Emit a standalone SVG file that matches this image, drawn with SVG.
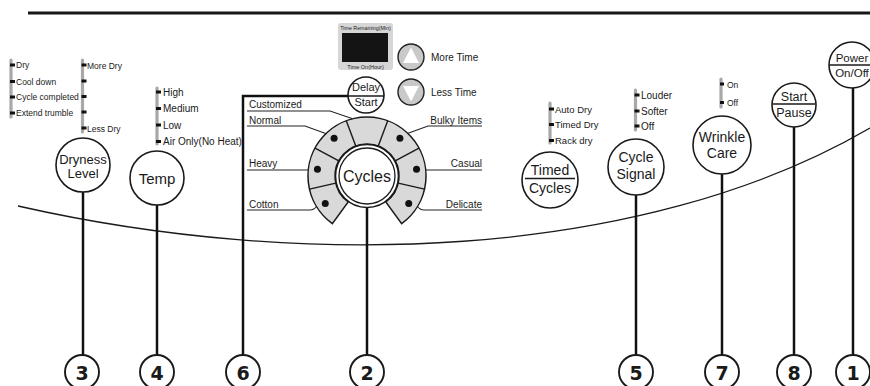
<svg xmlns="http://www.w3.org/2000/svg" width="870" height="386" viewBox="0 0 870 386">
<style>
text{font-family:"Liberation Sans",Arial,sans-serif;fill:#1a1a1a}
.node{fill:#fff;stroke:#1a1a1a;stroke-width:1.6}
.stem{stroke:#111;stroke-width:2.5;fill:none}
.lead{stroke:#222;stroke-width:1.1;fill:none}
.bar{stroke:#a8a8a8;stroke-width:3.2;stroke-linecap:round}
.tick{fill:#111}
.lbl{font-size:10px}
.sm{font-size:8.5px}
.nm{font-size:14px}
.num{font-family:"DejaVu Sans",Verdana,sans-serif;font-weight:bold;font-size:19px;text-anchor:middle}
.numc{fill:#fff;stroke:#1a1a1a;stroke-width:1.9}
.mid{text-anchor:middle}
.end{text-anchor:end}
.seg{fill:#d9d9d9;stroke:#1a1a1a;stroke-width:1.5}
.div{stroke:#1a1a1a;stroke-width:1.4}
.sep{stroke:#1a1a1a;stroke-width:1.6}
</style>

<line x1="28" y1="13" x2="870" y2="13" stroke="#161616" stroke-width="3"/>
<path d="M18,206 C300,270 640,262 870,128" fill="none" stroke="#1a1a1a" stroke-width="1.3"/>

<g id="connectors">
<line class="stem" x1="83" y1="191" x2="83" y2="355"/>
<line class="stem" x1="157" y1="205" x2="157" y2="355"/>
<polyline class="stem" points="348,96 243,96 243,355"/>
<line class="stem" x1="367" y1="207.5" x2="367" y2="355"/>
<line class="stem" x1="636" y1="195" x2="636" y2="355"/>
<line class="stem" x1="722" y1="174" x2="722" y2="355"/>
<line class="stem" x1="794" y1="127" x2="794" y2="355"/>
<line class="stem" x1="853" y1="88" x2="853" y2="355"/>
<polyline class="lead" points="247,111 330,111 352,118.5"/>
<polyline class="lead" points="247,126 305,126 327,134"/>
<polyline class="lead" points="482,126 428,126 406,134"/>
<line class="lead" x1="247" y1="170" x2="308.5" y2="170"/>
<line class="lead" x1="425.5" y1="170" x2="482" y2="170"/>
<path class="lead" d="M247,210 H310 Q314,210 317,206"/>
<path class="lead" d="M482,210 H424 Q420,210 417,206"/>
</g>

<g id="dryness-options">
<line class="bar" x1="11" y1="60" x2="11" y2="117"/>
<rect class="tick" x="10" y="63.5" width="5" height="3"/>
<rect class="tick" x="10" y="80" width="5" height="3"/>
<rect class="tick" x="10" y="95.5" width="5" height="3"/>
<rect class="tick" x="10" y="111.5" width="5" height="3"/>
<text class="sm" x="16" y="68">Dry</text>
<text class="sm" x="16" y="84.5">Cool down</text>
<text class="sm" x="16" y="100">Cycle completed</text>
<text class="sm" x="16" y="116">Extend trumble</text>
<line class="bar" x1="82.5" y1="60" x2="82.5" y2="132"/>
<rect class="tick" x="81.5" y="63.5" width="5" height="3"/>
<rect class="tick" x="81.5" y="79.5" width="5" height="3"/>
<rect class="tick" x="81.5" y="95" width="5" height="3"/>
<rect class="tick" x="81.5" y="110.5" width="5" height="3"/>
<rect class="tick" x="81.5" y="126.5" width="5" height="3"/>
<text class="sm" x="87" y="68.5">More Dry</text>
<text class="sm" x="87" y="131.5">Less Dry</text>
</g>

<g id="dryness-level">
<circle class="node" cx="83" cy="165" r="27"/>
<text class="mid" x="83" y="163.5" font-size="13">Dryness</text>
<text class="mid" x="83" y="178" font-size="13">Level</text>
</g>

<g id="temp-options">
<line class="bar" x1="157" y1="88" x2="157" y2="144"/>
<rect class="tick" x="156" y="90.5" width="5" height="3"/>
<rect class="tick" x="156" y="107" width="5" height="3"/>
<rect class="tick" x="156" y="123.5" width="5" height="3"/>
<rect class="tick" x="156" y="140" width="5" height="3"/>
<text class="lbl" x="163" y="95.5">High</text>
<text class="lbl" x="163" y="112">Medium</text>
<text class="lbl" x="163" y="128.5">Low</text>
<text class="lbl" x="163" y="145">Air Only(No Heat)</text>
</g>

<g id="temp">
<circle class="node" cx="157" cy="178" r="27"/>
<text class="mid" x="157" y="184" font-size="15">Temp</text>
</g>

<g id="display">
<rect x="338" y="23" width="55" height="47" rx="3" fill="#d6d6d6"/>
<rect x="342" y="33" width="46" height="29" fill="#141414"/>
<text class="mid" x="365.5" y="30" font-size="5.3">Time Remaining(Min)</text>
<text class="mid" x="365.5" y="68.5" font-size="5.5">Time On(Hour)</text>
</g>

<g id="more-time">
<circle cx="411" cy="57" r="13" fill="#c9c9c9" stroke="#222" stroke-width="1.4"/>
<polygon points="411,47.5 403,63 419,63" fill="#fff"/>
<text class="lbl" x="431" y="61">More Time</text>
</g>

<g id="less-time">
<circle cx="411" cy="92" r="13" fill="#c9c9c9" stroke="#222" stroke-width="1.4"/>
<polygon points="403,86 419,86 411,101.5" fill="#fff"/>
<text class="lbl" x="431" y="96">Less Time</text>
</g>

<g id="delay-start">
<circle class="node" cx="366" cy="95" r="18"/>
<line class="sep" x1="348" y1="96" x2="384" y2="96"/>
<text class="mid" x="366" y="91" font-size="11">Delay</text>
<text class="mid" x="366" y="106" font-size="11">Start</text>
</g>

<g id="cycles">
<path class="seg" d="M332.32,223.73 A59,59 0 1 1 401.68,223.73 L385.81,201.89 A32,32 0 1 0 348.19,201.89 Z"/>
<line class="div" x1="309.48" y1="189.13" x2="335.80" y2="183.12"/>
<line class="div" x1="315.05" y1="148.03" x2="338.82" y2="160.83"/>
<line class="div" x1="346.27" y1="120.76" x2="355.76" y2="146.04"/>
<line class="div" x1="387.73" y1="120.76" x2="378.24" y2="146.04"/>
<line class="div" x1="418.95" y1="148.03" x2="395.18" y2="160.83"/>
<line class="div" x1="424.52" y1="189.13" x2="398.20" y2="183.12"/>
<circle cx="325.27" cy="203.55" r="3.5" fill="#111"/>
<circle cx="317.45" cy="169.30" r="3.5" fill="#111"/>
<circle cx="334.10" cy="138.36" r="3.5" fill="#111"/>
<circle cx="399.90" cy="138.36" r="3.5" fill="#111"/>
<circle cx="416.55" cy="169.30" r="3.5" fill="#111"/>
<circle cx="408.73" cy="203.55" r="3.5" fill="#111"/>
<circle class="node" cx="367" cy="176" r="31.5"/>
<circle fill="none" stroke="#1a1a1a" stroke-width="1.3" cx="367" cy="176" r="28"/>
<text class="mid" x="367" y="181.5" font-size="16">Cycles</text>
<text class="lbl" x="249" y="108">Customized</text>
<text class="lbl" x="249" y="123.5">Normal</text>
<text class="lbl end" x="482" y="123.5">Bulky Items</text>
<text class="lbl" x="249" y="167">Heavy</text>
<text class="lbl end" x="482" y="167">Casual</text>
<text class="lbl" x="249" y="207.5">Cotton</text>
<text class="lbl end" x="482" y="207.5">Delicate</text>
</g>

<g id="timed-options">
<line class="bar" x1="550" y1="103" x2="550" y2="143"/>
<rect class="tick" x="549" y="107.5" width="5" height="3"/>
<rect class="tick" x="549" y="123" width="5" height="3"/>
<rect class="tick" x="549" y="139" width="5" height="3"/>
<text x="555" y="112.5" font-size="9.5">Auto Dry</text>
<text x="555" y="128" font-size="9.5">Timed Dry</text>
<text x="555" y="144" font-size="9.5">Rack dry</text>
</g>

<g id="timed-cycles">
<circle class="node" cx="550" cy="180" r="28"/>
<line class="sep" x1="525" y1="178.5" x2="575" y2="178.5"/>
<text class="nm mid" x="550" y="175">Timed</text>
<text class="nm mid" x="550" y="193">Cycles</text>
</g>

<g id="signal-options">
<line class="bar" x1="635.5" y1="90" x2="635.5" y2="130"/>
<rect class="tick" x="634.5" y="93.5" width="5" height="3"/>
<rect class="tick" x="634.5" y="109.5" width="5" height="3"/>
<rect class="tick" x="634.5" y="124.5" width="5" height="3"/>
<text class="lbl" x="641" y="98.5">Louder</text>
<text class="lbl" x="641" y="114.5">Softer</text>
<text class="lbl" x="641" y="129.5">Off</text>
</g>

<g id="cycle-signal">
<circle class="node" cx="636" cy="167" r="28"/>
<text class="nm mid" x="636" y="162">Cycle</text>
<text class="nm mid" x="636" y="179">Signal</text>
</g>

<g id="wrinkle-options">
<line class="bar" x1="721" y1="79" x2="721" y2="107"/>
<rect class="tick" x="720" y="82.5" width="4" height="3"/>
<rect class="tick" x="720" y="101" width="4" height="3"/>
<text x="727" y="87.5" font-size="8.5">On</text>
<text x="727" y="106" font-size="8.5">Off</text>
</g>

<g id="wrinkle-care">
<circle class="node" cx="722" cy="145" r="29"/>
<text class="nm mid" x="722" y="141.5">Wrinkle</text>
<text class="nm mid" x="722" y="158">Care</text>
</g>

<g id="start-pause">
<circle class="node" cx="794" cy="105" r="22"/>
<line class="sep" x1="773" y1="104" x2="815" y2="104"/>
<text class="mid" x="794" y="101" font-size="12.5">Start</text>
<text class="mid" x="794" y="117" font-size="12.5">Pause</text>
</g>

<g id="power">
<circle class="node" cx="852" cy="65" r="23"/>
<line class="sep" x1="829.5" y1="65" x2="870" y2="65"/>
<text class="mid" x="852" y="62" font-size="11.5">Power</text>
<text class="mid" x="852" y="77" font-size="11.5">On/Off</text>
</g>

<g id="num-3"><circle class="numc" cx="82" cy="372" r="17"/><text class="num" x="82" y="380">3</text></g>
<g id="num-4"><circle class="numc" cx="157" cy="372" r="17"/><text class="num" x="157" y="380">4</text></g>
<g id="num-6"><circle class="numc" cx="243" cy="372" r="17"/><text class="num" x="243" y="380">6</text></g>
<g id="num-2"><circle class="numc" cx="367" cy="372" r="17"/><text class="num" x="367" y="380">2</text></g>
<g id="num-5"><circle class="numc" cx="636" cy="372" r="17"/><text class="num" x="636" y="380">5</text></g>
<g id="num-7"><circle class="numc" cx="722" cy="372" r="17"/><text class="num" x="722" y="380">7</text></g>
<g id="num-8"><circle class="numc" cx="794" cy="372" r="17"/><text class="num" x="794" y="380">8</text></g>
<g id="num-1"><circle class="numc" cx="853" cy="372" r="17"/><text class="num" x="853" y="380">1</text></g>
</svg>
